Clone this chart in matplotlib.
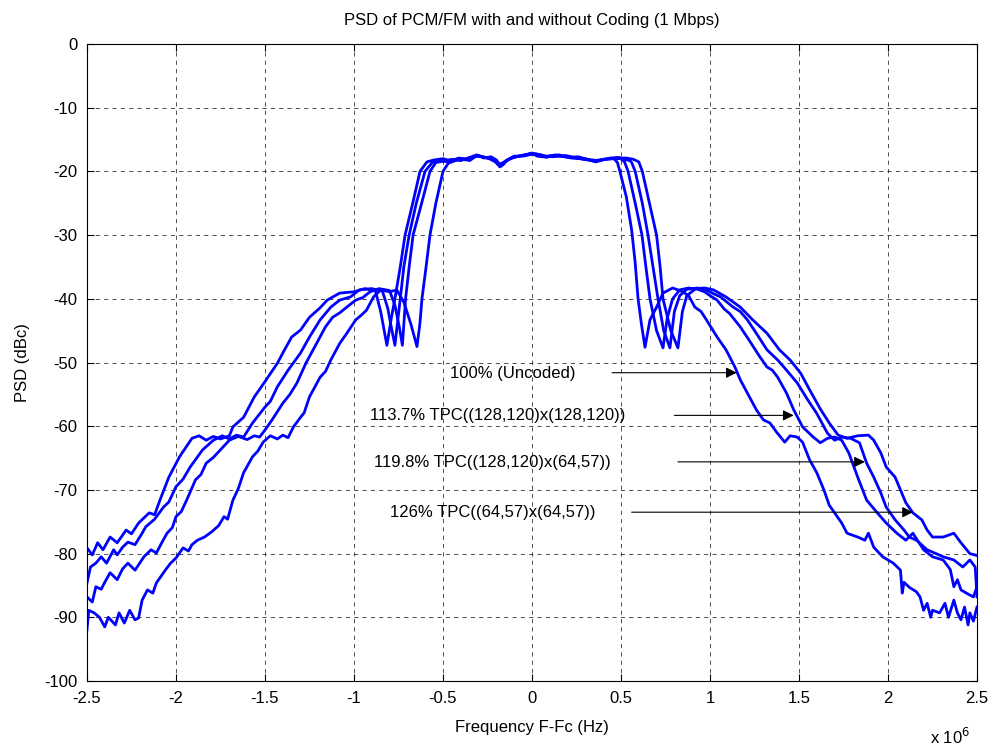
import matplotlib
matplotlib.use('Agg')
import matplotlib.pyplot as plt
from matplotlib.ticker import FuncFormatter

plt.rcParams['font.family'] = ['Liberation Sans', 'DejaVu Sans']
plt.rcParams['axes.unicode_minus'] = False

# frequency offset (MHz), PSD (dBc)
psd_100 = [(-2.50,-92.0),(-2.49,-88.9),(-2.46,-89.3),(-2.43,-90.0),(-2.40,-91.5),(-2.38,-90.0),(-2.34,-91.2),(-2.32,-89.3),
           (-2.29,-90.9),(-2.26,-88.9),(-2.23,-90.4),(-2.21,-90.1),(-2.19,-87.3),(-2.16,-85.7),(-2.13,-86.2),(-2.11,-84.6),
           (-2.06,-82.6),(-2.03,-81.5),(-2.00,-80.7),(-1.96,-79.1),(-1.93,-79.6),(-1.91,-78.6),(-1.88,-77.9),(-1.84,-77.4),
           (-1.80,-76.6),(-1.76,-75.6),(-1.73,-74.2),(-1.71,-74.6),(-1.68,-71.6),(-1.65,-69.8),(-1.62,-67.3),(-1.57,-64.8),
           (-1.54,-63.9),(-1.51,-62.5),(-1.47,-61.5),(-1.43,-62.0),(-1.40,-61.4),(-1.37,-61.8),(-1.34,-60.1),(-1.30,-58.6),
           (-1.28,-57.9),(-1.25,-55.4),(-1.19,-52.3),(-1.16,-51.4),(-1.13,-49.6),(-1.08,-47.0),(-1.04,-45.4),(-0.99,-43.3),
           (-0.96,-42.6),(-0.93,-41.8),(-0.89,-39.7),(-0.85,-38.6),(-0.80,-38.9),(-0.76,-38.6),(-0.72,-40.5),(-0.68,-44.0),
           (-0.646,-47.5),(-0.63,-44.0),(-0.618,-40.0),(-0.595,-35.0),(-0.573,-30.0),(-0.54,-25.0),(-0.50,-20.0),(-0.47,-18.7),
           (-0.43,-18.3),(-0.39,-18.0),(-0.35,-18.3),(-0.31,-17.5),(-0.27,-17.8),(-0.24,-17.9),(-0.20,-18.6),(-0.18,-19.3),
           (-0.16,-18.9),(-0.14,-18.2),(-0.09,-17.7),(-0.03,-17.4),(0.00,-17.1),(0.03,-17.6),(0.06,-17.7),(0.11,-17.5),
           (0.17,-17.6),(0.22,-17.9),(0.27,-18.0),(0.32,-18.2),(0.36,-18.5),(0.41,-18.1),(0.46,-18.0),(0.48,-18.6),
           (0.494,-20.0),(0.53,-24.0),(0.56,-29.2),(0.58,-34.4),(0.596,-40.0),(0.615,-44.0),(0.635,-47.6),(0.663,-43.3),
           (0.70,-41.3),(0.736,-39.1),(0.79,-38.3),(0.84,-38.8),(0.88,-39.5),(0.915,-41.3),(0.95,-42.0),(0.98,-43.3),
           (1.04,-46.0),(1.09,-48.0),(1.14,-50.7),(1.17,-52.7),(1.21,-54.8),(1.26,-57.4),(1.30,-59.0),(1.337,-59.5),
           (1.376,-61.0),(1.42,-62.5),(1.45,-61.5),(1.49,-61.7),(1.52,-62.5),(1.56,-65.3),(1.60,-67.3),(1.64,-70.0),
           (1.67,-72.4),(1.70,-73.6),(1.74,-75.2),(1.77,-76.8),(1.83,-77.4),(1.87,-77.9),(1.89,-76.8),(1.92,-79.0),
           (1.97,-80.5),(2.03,-81.5),(2.07,-82.6),(2.08,-86.2),(2.09,-84.5),(2.12,-85.3),(2.16,-86.0),(2.18,-86.8),
           (2.20,-88.9),(2.22,-87.8),(2.24,-90.0),(2.25,-88.9),(2.29,-89.3),(2.32,-87.8),(2.34,-90.0),(2.37,-87.3),
           (2.39,-89.3),(2.41,-90.4),(2.43,-88.4),(2.45,-91.2),(2.46,-89.3),(2.48,-90.6),(2.50,-88.4)]

psd_1137 = [(-2.50,-86.8),(-2.47,-87.6),(-2.45,-85.2),(-2.42,-85.6),(-2.40,-84.5),(-2.37,-83.0),(-2.33,-84.1),(-2.30,-82.4),
            (-2.27,-81.5),(-2.23,-82.6),(-2.18,-80.5),(-2.14,-79.4),(-2.11,-79.9),(-2.08,-78.3),(-2.05,-76.8),(-2.02,-75.9),
            (-2.00,-74.2),(-1.97,-73.4),(-1.94,-71.6),(-1.89,-68.4),(-1.86,-67.6),(-1.83,-65.8),(-1.79,-64.9),(-1.75,-63.7),
            (-1.70,-62.2),(-1.65,-61.6),(-1.60,-62.1),(-1.56,-61.5),(-1.53,-61.7),(-1.50,-60.6),(-1.46,-59.0),(-1.40,-56.4),
            (-1.36,-55.0),(-1.32,-53.2),(-1.27,-50.1),(-1.21,-47.0),(-1.16,-44.4),(-1.12,-42.9),(-1.08,-42.2),(-1.04,-41.3),
            (-0.99,-40.2),(-0.95,-39.8),(-0.91,-38.9),(-0.86,-38.4),(-0.80,-38.7),(-0.77,-41.0),(-0.745,-44.5),(-0.728,-47.3),
            (-0.71,-40.0),(-0.69,-35.0),(-0.668,-30.0),(-0.62,-25.0),(-0.573,-20.0),(-0.54,-18.6),(-0.50,-18.4),(-0.45,-18.1),
            (-0.40,-18.3),(-0.36,-17.9),(-0.31,-17.4),(-0.27,-17.9),(-0.23,-17.7),(-0.20,-18.2),(-0.18,-19.0),(-0.15,-18.4),
            (-0.10,-17.6),(-0.05,-17.6),(0.00,-17.3),(0.04,-17.5),(0.08,-17.8),(0.13,-17.4),(0.18,-17.7),(0.24,-17.8),
            (0.29,-18.1),(0.34,-18.3),(0.39,-18.2),(0.44,-17.9),(0.49,-17.8),(0.52,-18.5),(0.54,-20.0),(0.58,-25.0),
            (0.618,-30.0),(0.64,-35.0),(0.663,-40.0),(0.70,-45.0),(0.736,-47.7),(0.76,-43.0),(0.79,-40.0),(0.83,-38.6),
            (0.88,-38.3),(0.93,-38.5),(0.97,-38.9),(1.00,-39.5),(1.04,-40.2),(1.08,-41.6),(1.11,-42.3),(1.17,-44.4),
            (1.22,-46.5),(1.28,-49.1),(1.32,-50.7),(1.35,-51.2),(1.38,-52.3),(1.43,-54.8),(1.47,-57.4),(1.52,-60.1),
            (1.58,-61.7),(1.62,-62.6),(1.66,-61.9),(1.70,-61.7),(1.74,-62.2),(1.78,-64.2),(1.83,-68.0),(1.88,-71.6),
            (1.94,-73.6),(1.99,-75.2),(2.05,-76.8),(2.10,-77.9),(2.14,-76.8),(2.20,-79.4),(2.25,-80.5),(2.31,-81.0),
            (2.35,-82.5),(2.37,-85.2),(2.39,-84.1),(2.41,-85.7),(2.44,-86.2),(2.48,-86.8),(2.50,-85.2)]

psd_1198 = [(-2.50,-84.6),(-2.48,-82.1),(-2.45,-81.5),(-2.42,-80.5),(-2.39,-81.5),(-2.35,-79.4),(-2.33,-80.2),(-2.30,-79.0),
            (-2.27,-78.2),(-2.23,-78.6),(-2.19,-76.8),(-2.17,-75.8),(-2.12,-74.6),(-2.07,-72.7),(-2.04,-71.9),(-2.00,-69.5),
            (-1.96,-68.3),(-1.92,-66.4),(-1.85,-63.7),(-1.79,-62.2),(-1.74,-61.5),(-1.70,-62.0),(-1.66,-61.4),(-1.62,-61.7),
            (-1.57,-59.5),(-1.50,-57.0),(-1.47,-56.1),(-1.43,-53.8),(-1.37,-51.2),(-1.30,-48.5),(-1.25,-46.0),(-1.19,-43.3),
            (-1.13,-41.3),(-1.08,-40.2),(-1.02,-39.7),(-0.97,-38.6),(-0.90,-38.4),(-0.84,-38.8),(-0.81,-41.5),(-0.79,-44.5),
            (-0.77,-47.3),(-0.74,-40.0),(-0.72,-35.0),(-0.69,-30.0),(-0.65,-25.0),(-0.601,-20.0),(-0.56,-18.6),(-0.52,-18.3),
            (-0.47,-18.5),(-0.42,-18.0),(-0.37,-18.2),(-0.32,-17.6),(-0.28,-17.7),(-0.24,-18.0),(-0.21,-18.4),(-0.18,-19.2),
            (-0.15,-18.5),(-0.11,-17.8),(-0.06,-17.5),(-0.02,-17.3),(0.02,-17.2),(0.07,-17.6),(0.12,-17.7),(0.19,-17.5),
            (0.25,-17.9),(0.30,-18.0),(0.35,-18.4),(0.40,-18.1),(0.45,-18.0),(0.50,-18.0),(0.55,-18.3),(0.56,-18.6),
            (0.58,-20.0),(0.62,-25.0),(0.652,-30.0),(0.68,-35.0),(0.708,-40.0),(0.74,-45.0),(0.775,-47.7),(0.80,-42.0),
            (0.83,-39.5),(0.87,-38.5),(0.93,-38.3),(0.98,-38.6),(1.02,-39.2),(1.06,-39.7),(1.13,-41.3),(1.17,-42.0),
            (1.21,-43.3),(1.26,-45.4),(1.32,-48.0),(1.38,-49.6),(1.43,-51.2),(1.49,-53.2),(1.55,-55.9),(1.60,-58.0),
            (1.66,-61.1),(1.70,-62.2),(1.74,-61.7),(1.79,-61.9),(1.84,-62.6),(1.88,-65.8),(1.92,-68.0),(1.96,-70.5),
            (1.99,-72.7),(2.04,-74.7),(2.09,-76.3),(2.12,-77.4),(2.16,-77.9),(2.22,-79.4),(2.27,-80.0),(2.31,-80.5),
            (2.37,-81.0),(2.42,-82.1),(2.46,-81.0),(2.49,-82.1),(2.50,-86.8)]

psd_126 = [(-2.50,-79.1),(-2.47,-80.2),(-2.44,-78.3),(-2.41,-79.4),(-2.37,-77.4),(-2.33,-78.3),(-2.28,-76.3),(-2.25,-76.9),
           (-2.21,-75.2),(-2.15,-73.6),(-2.12,-73.9),(-2.09,-71.6),(-2.04,-68.0),(-1.98,-64.8),(-1.91,-61.9),(-1.87,-61.5),
           (-1.83,-62.2),(-1.79,-61.6),(-1.75,-62.0),(-1.70,-61.5),(-1.68,-60.1),(-1.62,-58.6),(-1.56,-55.4),(-1.50,-53.0),
           (-1.43,-50.1),(-1.39,-48.0),(-1.35,-46.0),(-1.30,-44.9),(-1.25,-42.9),(-1.19,-41.4),(-1.15,-40.2),(-1.08,-39.1),
           (-1.00,-38.9),(-0.94,-38.4),(-0.88,-38.7),(-0.85,-42.0),(-0.815,-47.3),(-0.79,-43.0),(-0.77,-40.0),(-0.74,-35.0),
           (-0.713,-30.0),(-0.67,-25.0),(-0.629,-20.0),(-0.59,-18.5),(-0.55,-18.2),(-0.50,-18.0),(-0.45,-18.4),(-0.41,-17.9),
           (-0.36,-18.1),(-0.30,-17.5),(-0.26,-17.8),(-0.22,-18.1),(-0.19,-18.9),(-0.16,-18.6),(-0.12,-17.9),(-0.07,-17.6),
           (-0.01,-17.2),(0.05,-17.4),(0.09,-17.7),(0.15,-17.4),(0.21,-17.8),(0.26,-17.7),(0.31,-18.1),(0.37,-18.3),
           (0.43,-18.0),(0.48,-17.9),(0.53,-17.9),(0.57,-18.1),(0.60,-18.5),(0.62,-20.0),(0.66,-25.0),(0.70,-30.0),
           (0.72,-35.0),(0.736,-40.0),(0.78,-45.0),(0.82,-47.7),(0.845,-42.0),(0.87,-39.5),(0.92,-38.4),(0.97,-38.3),
           (1.02,-38.6),(1.09,-39.7),(1.17,-41.3),(1.24,-43.3),(1.32,-45.4),(1.39,-48.0),(1.45,-49.6),(1.51,-51.7),
           (1.56,-54.3),(1.62,-57.3),(1.67,-59.5),(1.72,-61.4),(1.77,-61.9),(1.83,-61.5),(1.89,-61.4),(1.92,-62.2),
           (1.96,-64.2),(1.99,-66.4),(2.04,-68.0),(2.07,-70.0),(2.10,-72.0),(2.14,-73.6),(2.19,-74.7),(2.22,-76.3),
           (2.25,-77.4),(2.31,-77.4),(2.37,-76.8),(2.41,-78.3),(2.46,-80.0),(2.50,-80.3)]

labels = ['100% (Uncoded)', '113.7% TPC((128,120)x(128,120))',
          '119.8% TPC((128,120)x(64,57))', '126% TPC((64,57)x(64,57))']
# text anchor (MHz, dB), arrow tail and arrow head (MHz, dB)
label_pos = [(-0.46, -51.8), (-0.91, -58.3), (-0.89, -65.7), (-0.80, -73.6)]
arrow_from = [(0.45, -51.6), (0.80, -58.3), (0.82, -65.6), (0.56, -73.5)]
arrow_to = [(1.15, -51.6), (1.47, -58.3), (1.87, -65.6), (2.14, -73.5)]

fig = plt.figure(figsize=(9.95, 7.5), dpi=100)
ax = fig.add_axes([0.0874, 0.092, 0.8945, 0.8493])

for data in [psd_100, psd_1137, psd_1198, psd_126]:
    f, p = zip(*data)
    ax.plot(f, p, color='#0000ff', linewidth=2.0)

for txt, pos, a0, a1 in zip(labels, label_pos, arrow_from, arrow_to):
    ax.text(pos[0], pos[1], txt, fontsize=12, va='center', ha='left')
    ax.annotate('', xy=a1, xytext=a0,
                arrowprops=dict(arrowstyle='-|>', color='k', lw=0.8, mutation_scale=16, shrinkA=0, shrinkB=0))

ax.set_xlim(-2.5, 2.5)
ax.set_ylim(-100, 0)
ax.set_xticks([-2.5, -2, -1.5, -1, -0.5, 0, 0.5, 1, 1.5, 2, 2.5])
ax.set_yticks(range(-100, 1, 10))
ax.xaxis.set_major_formatter(FuncFormatter(lambda v, _: '%g' % v))
ax.tick_params(direction='in', top=True, right=True, length=5, labelsize=12, pad=7)
ax.grid(True, color='k', linestyle=(0, (5, 5)), linewidth=0.6, alpha=0.8)
for s in ax.spines.values():
    s.set_linewidth(0.8)

ax.set_title('PSD of PCM/FM with and without Coding (1 Mbps)', fontsize=12, pad=14)
ax.set_xlabel('Frequency F-Fc (Hz)', fontsize=12, labelpad=10)
ax.set_ylabel('PSD (dBc)', fontsize=12, labelpad=10)
fig.text(0.935, 0.008, r'x 10$^6$', fontsize=12)

fig.savefig('out.png', dpi=100)
